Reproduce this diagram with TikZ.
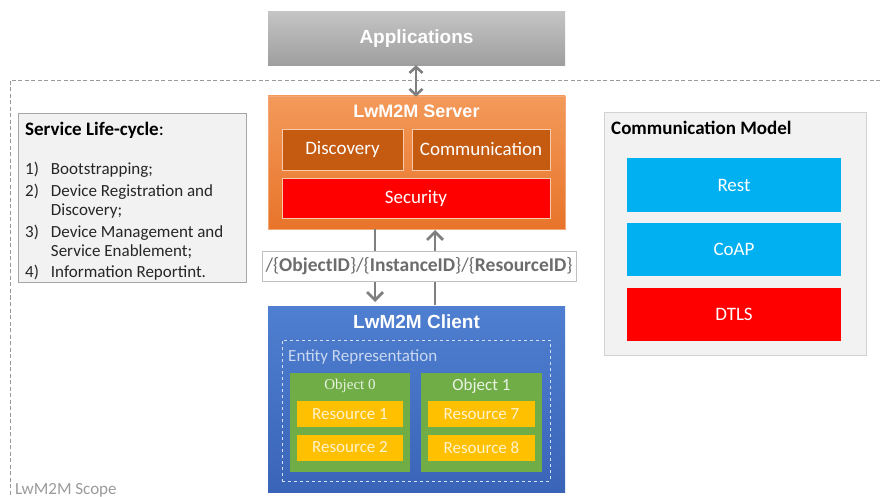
\documentclass[tikz,border=0pt]{standalone}
\usepackage{fontspec}
\setmainfont{Carlito}
\newfontfamily\arialb[BoldFont={Liberation Sans Bold}]{Liberation Sans}
\newfontfamily\serifobj{Liberation Serif}
\usetikzlibrary{arrows.meta}
\definecolor{appTop}{HTML}{C4C4C4}
\definecolor{appBot}{HTML}{9E9E9E}
\definecolor{srvTop}{HTML}{F39A5A}
\definecolor{srvBot}{HTML}{E8742A}
\definecolor{srvDark}{HTML}{C55A11}
\definecolor{srvEdge}{HTML}{F8CBAD}
\definecolor{secRed}{HTML}{FF0000}
\definecolor{cliTop}{HTML}{4F7FD0}
\definecolor{cliBot}{HTML}{3A64B8}
\definecolor{objGreen}{HTML}{70AD47}
\definecolor{resYel}{HTML}{FFC000}
\definecolor{resTxt}{HTML}{FFF2CC}
\definecolor{panelFill}{HTML}{F2F2F2}
\definecolor{panelEdge}{HTML}{A6A6A6}
\definecolor{skyBlue}{HTML}{00B0F0}
\definecolor{arrGray}{HTML}{7F7F7F}
\definecolor{scopeGray}{HTML}{9A9A9A}
\definecolor{txtDark}{HTML}{262626}
\begin{document}
\begin{tikzpicture}[x=1pt,y=-1pt,
  blk/.style={rectangle, inner sep=0pt, text=white},
  inbox/.style={rectangle, inner sep=0pt, text=white, draw=srvEdge, line width=0.8pt, font=\fontsize{19}{21}\selectfont},
  resbox/.style={rectangle, inner sep=0pt, fill=resYel, text=resTxt, minimum width=106pt, minimum height=26pt, font=\fontsize{17}{19}\selectfont},
  objbox/.style={rectangle, inner sep=0pt, fill=objGreen, minimum width=120pt, minimum height=99pt},
  cmbox/.style={rectangle, inner sep=0pt, minimum width=214pt, minimum height=53pt, text=white, font=\fontsize{19}{21}\selectfont},
  conn/.style={draw=arrGray, line width=2.8pt},
  tip/.style={-{Straight Barb[length=8pt,width=16pt,line width=2.8pt]}},
  dtip/.style={{Straight Barb[length=6pt,width=13pt,line width=2.6pt]}-{Straight Barb[length=6pt,width=13pt,line width=2.6pt]}},
  titlefont/.style={font=\arialb\bfseries\fontsize{19}{21}\selectfont}
]
\useasboundingbox (0,0) rectangle (880,497);
% scope
\draw[scopeGray, dashed, line width=0.8pt, dash pattern=on 4pt off 2.5pt] (880,80) -- (10,80) -- (10,497);
\node[anchor=base west, text=scopeGray, font=\fontsize{17}{19}\selectfont, inner sep=0pt] (scope) at (15,494) {LwM2M Scope};

% Applications
\node[blk, minimum width=297pt, minimum height=54pt, top color=appTop, bottom color=appBot, titlefont] (apps) at (416.5,39) {Applications};

% Server
\node[blk, minimum width=297pt, minimum height=133pt, top color=srvTop, bottom color=srvBot, draw=srvEdge!60!srvBot, line width=0.6pt] (server) at (416.5,162.5) {};
\node[titlefont, font=\arialb\bfseries\fontsize{18}{20}\selectfont, text=white] (srvt) at (416.5,111) {LwM2M Server};
\node[inbox, fill=srvDark, minimum width=121pt, minimum height=41pt] (disc) at (342.5,149.5) {Discovery};
\node[inbox, fill=srvDark, minimum width=138pt, minimum height=41pt] (comm) at (481,149.5) {Communication};
\node[inbox, fill=secRed, minimum width=268pt, minimum height=40pt] (sec) at (416,198) {Security};

% Client
\node[blk, minimum width=297pt, minimum height=186pt, top color=cliTop, bottom color=cliBot] (client) at (416.5,399) {};
\node[titlefont, text=white] (clit) at (416.5,322) {LwM2M Client};
\node[rectangle, draw=white!75!cliTop, dashed, line width=0.8pt, minimum width=268pt, minimum height=141pt] (entity) at (416,410.5) {};
\node[anchor=base west, inner sep=0pt, text=white!70!cliTop, font=\fontsize{17}{19}\selectfont] (entt) at (288,361) {Entity Representation};

\node[objbox] (obj0) at (350,422.5) {};
\node[text=white!85!objGreen, font=\serifobj\fontsize{15}{17}\selectfont] (obj0t) at (350,386) {Object 0};
\node[resbox] (r1) at (350,414) {Resource 1};
\node[resbox] (r2) at (350,447.5) {Resource 2};

\node[objbox, minimum width=121pt] (obj1) at (481.5,422.5) {};
\node[text=white!85!objGreen, font=\fontsize{17}{19}\selectfont] (obj1t) at (481.5,386) {Object 1};
\node[resbox, minimum width=107pt] (r7) at (481.5,414) {Resource 7};
\node[resbox, minimum width=107pt] (r8) at (481.5,447.5) {Resource 8};

% connectors
\coordinate (sL) at (375,229);
\coordinate (cL) at (375,302);
\coordinate (sR) at (435,230);
\coordinate (cR) at (435,305);
\draw[conn, tip] (sL) -- (cL);
\draw[conn, tip] (cR) -- (sR);
\draw[conn, line width=2.6pt, dtip] ([yshift=1pt]apps.south -| 416,0) -- ([yshift=-1pt]server.north -| 416,0);

% path label (over the connectors)
\node[rectangle, fill=white, draw=panelEdge!70, line width=0.8pt, minimum width=314pt, minimum height=30pt, inner sep=0pt, text=arrGray!85!black, font=\fontsize{19.5}{21}\selectfont] (path) at (419,266) {/\{\textbf{ObjectID}\}/\{\textbf{InstanceID}\}/\{\textbf{ResourceID}\}};

% Service life-cycle panel
\node[rectangle, fill=panelFill, draw=panelEdge, line width=0.8pt, minimum width=228pt, minimum height=169pt, inner sep=0pt] (slc) at (132,197.5) {};
\node[anchor=base west, inner sep=0pt, text=black, font=\fontsize{19}{21}\selectfont] (slct) at (25,136) {\textbf{Service Life-cycle}:};
\node[anchor=base west, text=txtDark, inner sep=0pt, font=\fontsize{17}{19}\selectfont] (slcl) at (25,175) {%
\begin{tabular}[t]{@{}l@{\hspace{12pt}}l@{}}
1) & Bootstrapping;\\[3pt]
2) & Device Registration and\\
   & Discovery;\\[3pt]
3) & Device Management and\\
   & Service Enablement;\\[2pt]
4) & Information Reportint.
\end{tabular}};

% Communication model panel
\node[rectangle, fill=panelFill, draw=panelEdge!50, line width=0.8pt, minimum width=262pt, minimum height=243pt, inner sep=0pt] (cm) at (735,233.5) {};
\node[anchor=base west, inner sep=0pt, text=black, font=\bfseries\fontsize{19}{21}\selectfont] (cmt) at (611,135) {Communication Model};
\node[cmbox, fill=skyBlue] (rest) at (734,185) {Rest};
\node[cmbox, fill=skyBlue] (coap) at (734,249.5) {CoAP};
\node[cmbox, fill=secRed] (dtls) at (734,314.5) {DTLS};
\end{tikzpicture}
\end{document}
